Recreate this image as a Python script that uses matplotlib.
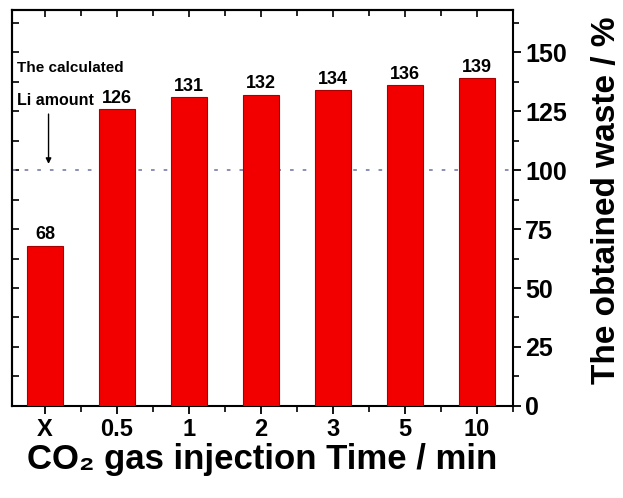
import matplotlib
matplotlib.use('Agg')
import matplotlib.pyplot as plt
from matplotlib.ticker import MultipleLocator, NullFormatter

plt.rcParams['font.family'] = ['Liberation Sans', 'DejaVu Sans']
plt.rcParams['font.weight'] = 'bold'

# CO2 injection time vs obtained waste
times = ['X', '0.5', '1', '2', '3', '5', '10']
waste = [68, 126, 131, 132, 134, 136, 139]
calc_li = 100

fig = plt.figure(figsize=(6.23, 4.98), dpi=100)
ax = fig.add_axes([0.019, 0.185, 0.804, 0.795])

pos = list(range(len(times)))
ax.bar(pos, waste, width=0.5, color='#f20000', edgecolor='#a80000', linewidth=0.8, zorder=3)
for x, v in zip(pos, waste):
    ax.text(x, v + 1, str(v), ha='center', va='bottom', fontsize=13, fontweight='bold')

# calculated Li amount reference line
ax.axhline(calc_li, color='#7f86b0', linestyle=(0, (2, 5)), linewidth=1.3, zorder=2)
ax.text(-0.39, 143.5, 'The calculated', fontsize=11, fontweight='bold', va='center', ha='left')
ax.text(-0.39, 129.5, 'Li amount', fontsize=11.5, fontweight='bold', va='center', ha='left')
ax.annotate('', xy=(0.05, 101.5), xytext=(0.05, 125),
            arrowprops=dict(arrowstyle='-|>', color='black', lw=1.0, mutation_scale=8))

ax.set_xlim(-0.46, 6.5)
ax.set_ylim(0, 168)
ax.set_xticks(pos)
ax.set_xticklabels(times)
ax.xaxis.set_minor_locator(MultipleLocator(0.5))

ax.yaxis.tick_right()
ax.yaxis.set_label_position('right')
ax.yaxis.set_major_locator(MultipleLocator(25))
ax.yaxis.set_minor_locator(MultipleLocator(12.5))
ax.tick_params(axis='both', which='both', direction='out', top=False, left=False)
ax.tick_params(axis='both', which='major', labelsize=18, length=6, width=1.3, pad=3)
ax.tick_params(axis='both', which='minor', length=4, width=1.2)
ax.tick_params(axis='x', which='major', labelsize=17)
for lbl in ax.get_xticklabels() + ax.get_yticklabels():
    lbl.set_fontweight('bold')

# inward ticks on the left and top frame
lax = ax.secondary_yaxis('left')
lax.yaxis.set_major_locator(MultipleLocator(25))
lax.yaxis.set_minor_locator(MultipleLocator(12.5))
lax.yaxis.set_major_formatter(NullFormatter())
lax.tick_params(which='both', direction='in', length=5, width=1.2)
tax = ax.secondary_xaxis('top')
tax.set_xticks(pos)
tax.xaxis.set_major_formatter(NullFormatter())
tax.xaxis.set_minor_locator(MultipleLocator(0.5))
tax.tick_params(which='both', direction='in', length=5, width=1.2)
tax.tick_params(which='minor', length=4)

for a in (ax, lax, tax):
    for sp in a.spines.values():
        sp.set_linewidth(1.5)

ax.set_xlabel('CO₂ gas injection Time / min', fontsize=25, fontweight='bold', labelpad=1)
ax.set_ylabel('The obtained waste / %', fontsize=24, fontweight='bold')
ax.yaxis.set_label_coords(1.157, 0.52)

fig.savefig('out.png', dpi=100)
